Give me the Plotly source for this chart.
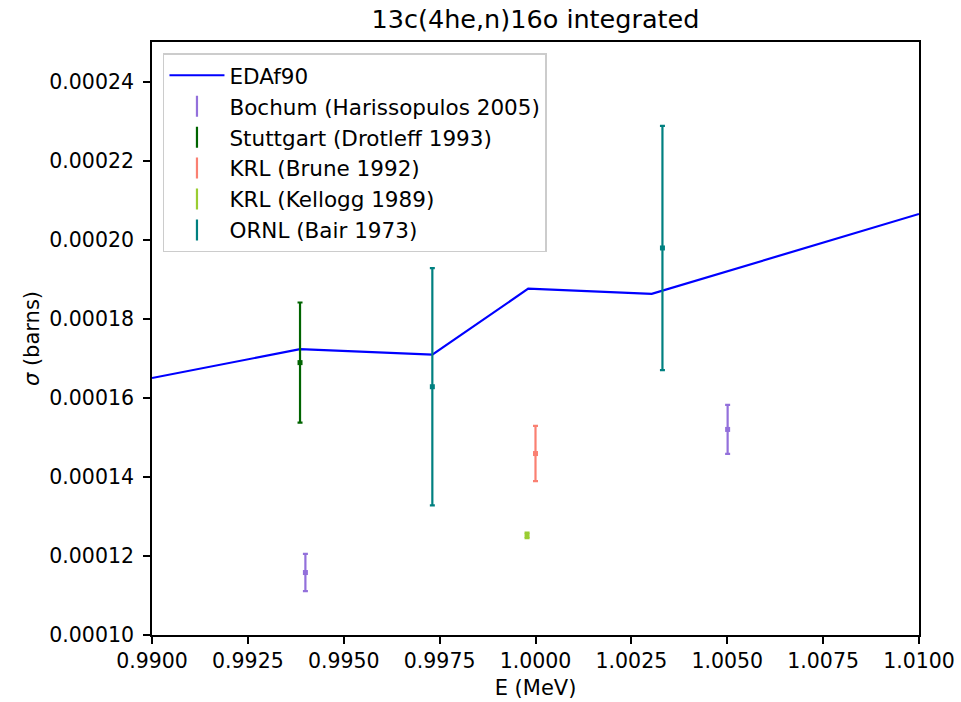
import plotly.graph_objects as go

# EDAf90 calculation
eda_E = [0.99, 0.99386, 0.99731, 0.99981, 1.00303, 1.01]
eda_sigma = [0.0001650, 0.0001723, 0.0001709, 0.0001876, 0.0001863, 0.0002065]

# Experimental data sets
bochum_E = [0.99400, 1.00501]
bochum_s = [0.0001158, 0.0001520]
bochum_d = [0.0000047, 0.0000062]

stutt_E = [0.99386]
stutt_s = [0.0001689]
stutt_d = [0.0000152]

brune_E = [1.00000]
brune_s = [0.0001459]
brune_d = [0.0000070]

kellogg_E = [0.99978]
kellogg_s = [0.0001252]
kellogg_d = [0.0000007]

ornl_E = [0.99731, 1.00331]
ornl_s = [0.0001628, 0.0001979]
ornl_d = [0.0000300, 0.0000309]

datasets = [
    ("Bochum (Harissopulos 2005)", "#9370DB", bochum_E, bochum_s, bochum_d),
    ("Stuttgart (Drotleff 1993)", "#006400", stutt_E, stutt_s, stutt_d),
    ("KRL (Brune 1992)", "#FA8072", brune_E, brune_s, brune_d),
    ("KRL (Kellogg 1989)", "#9ACD32", kellogg_E, kellogg_s, kellogg_d),
    ("ORNL (Bair 1973)", "#008080", ornl_E, ornl_s, ornl_d),
]

FONT = "DejaVu Sans"
FS = 20.5
fig = go.Figure()

fig.add_trace(go.Scatter(
    x=eda_E, y=eda_sigma, mode="lines", name="EDAf90", legendgroup="g0",
    line=dict(color="blue", width=2.2),
))

for i, (name, color, E, s, d) in enumerate(datasets):
    fig.add_trace(go.Scatter(
        x=E, y=s, mode="markers", name=name, showlegend=False,
        marker=dict(color=color, size=5, symbol="square"),
        error_y=dict(type="data", array=d, visible=True, color=color,
                     thickness=2.2, width=2.5),
    ))
    # legend entry mimicking an error-bar icon
    fig.add_trace(go.Scatter(
        x=[None], y=[None], mode="markers", name=name,
        legendgroup="g%d" % (i + 1),
        marker=dict(color=color, size=15, symbol="line-ns-open",
                    line=dict(color=color, width=2.2)),
    ))

fig.update_layout(
    width=961, height=702,
    margin=dict(l=152, r=42, t=42, b=67, autoexpand=False),
    paper_bgcolor="white", plot_bgcolor="white",
    font=dict(family=FONT, size=FS, color="black"),
    title=dict(text="13c(4he,n)16o integrated", x=0.5, xref="paper",
               xanchor="center",
               y=1 - 19 / 702, yref="container", yanchor="middle",
               font=dict(size=25.5)),
    legend=dict(x=0.0143, y=0.981, xanchor="left", yanchor="top",
                bgcolor="rgba(255,255,255,0.8)", bordercolor="#cccccc",
                borderwidth=1.5, font=dict(size=21.5), tracegroupgap=0,
                itemwidth=55, traceorder="grouped"),
)

fig.update_xaxes(
    range=[0.99, 1.01], dtick=0.0025, tick0=0.99, tickformat=".4f",
    showgrid=False, zeroline=False, showline=True, linecolor="black",
    linewidth=1.7, mirror=True, ticks="outside", ticklen=7, tickwidth=1.7,
    tickcolor="black", automargin=False,
    title=dict(text="E (MeV)", standoff=8, font=dict(size=21)),
)
fig.update_yaxes(
    range=[0.0001, 0.00025], dtick=0.00002, tick0=0.0001, tickformat=".5f",
    showgrid=False, zeroline=False, showline=True, linecolor="black",
    linewidth=1.7, mirror=True, ticks="outside", ticklen=7, tickwidth=1.7,
    tickcolor="black", ticklabelstandoff=5, automargin=False,
    title=dict(text="<i>σ</i> (barns)", standoff=4, font=dict(size=21)),
)

fig.write_html("out.html")
